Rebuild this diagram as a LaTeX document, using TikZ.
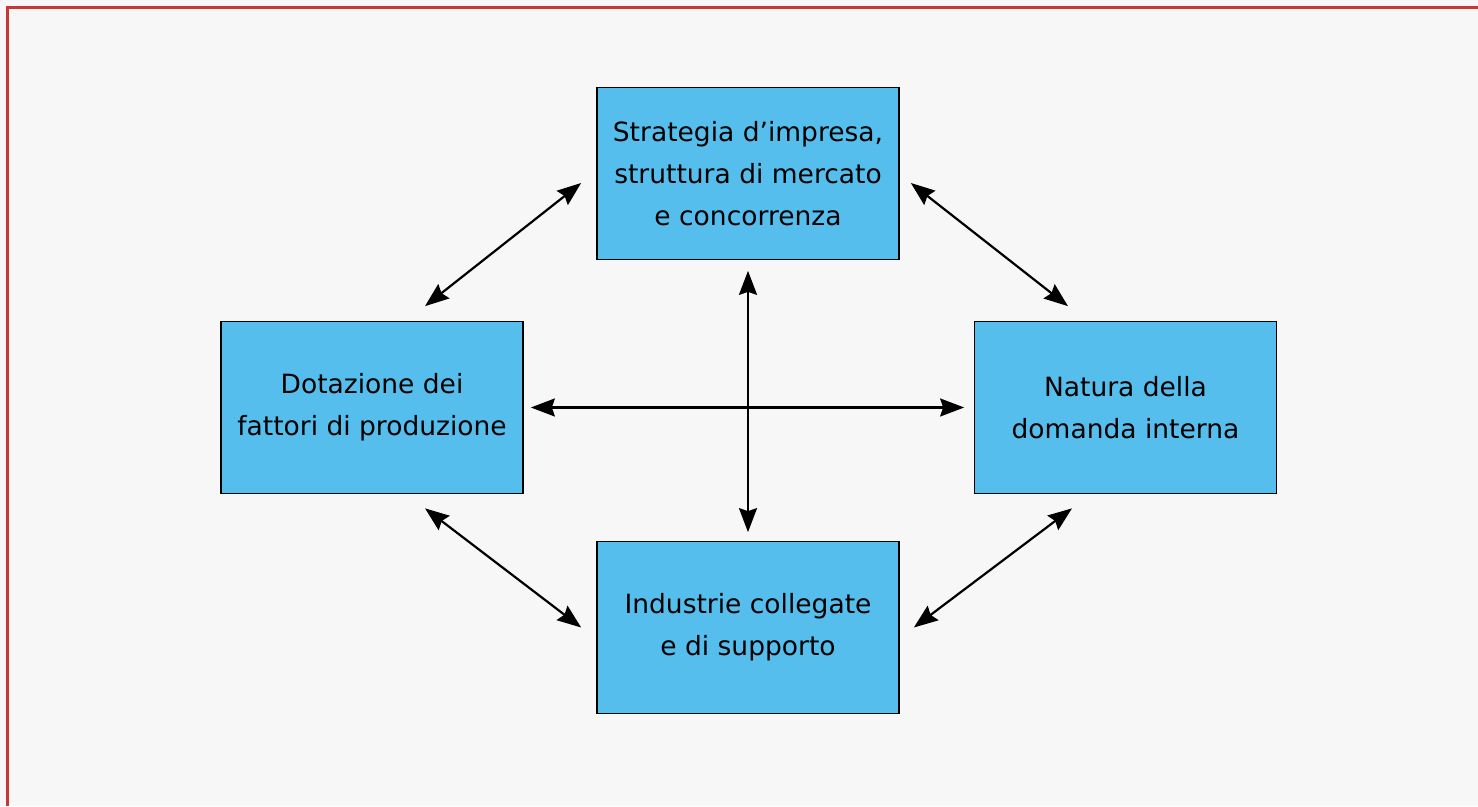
\documentclass[tikz,border=0pt]{standalone}
\usepackage{fontspec}
\setmainfont{DejaVu Sans}
\usetikzlibrary{arrows.meta}

\definecolor{sfondo}{HTML}{F7F7F7}
\definecolor{azzurro}{HTML}{55BEEC}
\definecolor{bordorosso}{HTML}{C8363A}

\tikzset{
  blocco/.style={draw=black, line width=1.7pt, fill=azzurro,
    minimum width=302pt, minimum height=172pt, inner sep=0pt,
    align=center, font=\fontsize{26.5}{42}\selectfont},
  freccia/.style={{Stealth[length=24pt,width=18pt,inset=3pt]}-{Stealth[length=24pt,width=18pt,inset=3pt]}, line width=2.2pt}
}

\begin{document}
\begin{tikzpicture}[x=1pt,y=1pt]
        % Sfondo e cornice
        \fill[sfondo] (0,0) rectangle (1478,806);
        \useasboundingbox (0,0) rectangle (1478,806);
        \draw[bordorosso,line width=3pt] (7.8,0) -- (7.8,798.2) -- (1478,798.2);
        % Blocchi del diamante
        \node[blocco] (strategia) at (748,632.5) {Strategia d’impresa,\\struttura di mercato\\e concorrenza};
        \node[blocco] (fattori) at (372,398.5) {Dotazione dei\\fattori di produzione};
        \node[blocco] (domanda) at (1125.5,398.5) {Natura della\\domanda interna};
        \node[blocco] (industrie) at (748,178.5) {Industrie collegate\\e di supporto};
        % Frecce
        \draw[freccia] ([shift={(53,14.5)}]fattori.north) -- ([shift={(-15,-9.5)}]strategia.west);
        \draw[freccia] ([shift={(11,-9.5)}]strategia.east) -- ([shift={(-57.5,14.5)}]domanda.north);
        \draw[freccia] ([shift={(53,-14)}]fattori.south) -- ([xshift=-15pt]industrie.west);
        \draw[freccia] ([shift={(-53.5,-14)}]domanda.south) -- ([xshift=14pt]industrie.east);
        \draw[freccia] ([yshift=-10.5pt]strategia.south) -- ([yshift=8.5pt]industrie.north);
        \draw[freccia] ([xshift=7pt]fattori.east) -- ([xshift=-9.5pt]domanda.west);
    \end{tikzpicture}
\end{document}
